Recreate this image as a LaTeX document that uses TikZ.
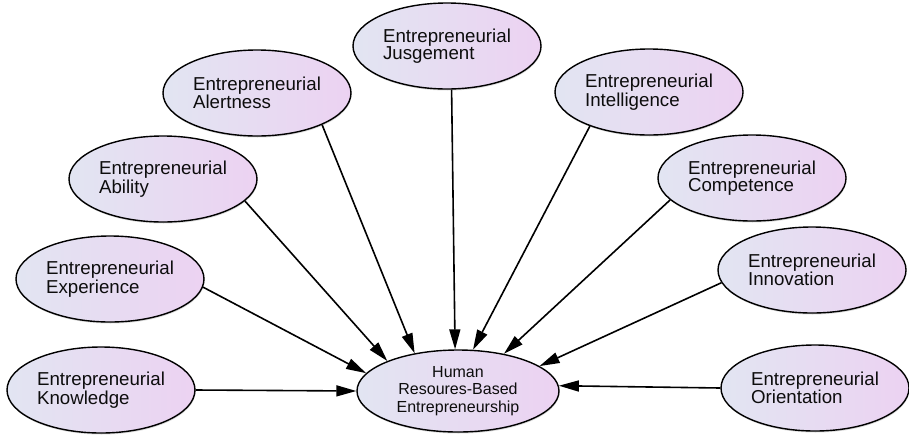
\documentclass[tikz,border=0pt]{standalone}
\usepackage{fontspec}
\setmainfont{Liberation Sans}
\usepackage{tikz}
\usetikzlibrary{arrows.meta,shapes.geometric,shadows}
\definecolor{lilacL}{RGB}{226,229,242}
\definecolor{lilacR}{RGB}{236,210,242}

\begin{document}
\begin{tikzpicture}[x=1pt, y=-1pt,
  ent/.style={ellipse, draw=black, line width=1.4pt,
              left color=lilacL, right color=lilacR,
              drop shadow={shadow xshift=0.5pt, shadow yshift=-1.5pt, opacity=0.3},
              align=left, inner sep=0pt, minimum width=188pt, minimum height=86pt,
              font=\fontsize{18.7}{17}\selectfont, text=black!95},
  hub/.style={ent, align=center, minimum width=202pt, minimum height=82pt,
              font=\fontsize{16}{17.5}\selectfont},
  arr/.style={-{Triangle[length=20pt, width=11pt]}, line width=1.6pt}]
\useasboundingbox (0,0) rectangle (909,434);
\node[hub] (hr) at (458,391) {Human\\ Resoures-Based\\ Entrepreneurship};
\node[ent] (e1) at (101,390) {Entrepreneurial\\ Knowledge};
\node[ent] (e2) at (110,279) {Entrepreneurial\\ Experience};
\node[ent] (e3) at (163,179) {Entrepreneurial\\ Ability};
\node[ent] (e4) at (257,93) {Entrepreneurial\\ Alertness};
\node[ent] (e5) at (447,46) {Entrepreneurial\\ Jusgement};
\node[ent] (e6) at (649,92) {Entrepreneurial\\ Intelligence};
\node[ent] (e7) at (752,178) {Entrepreneurial\\ Competence};
\node[ent] (e8) at (812,270) {Entrepreneurial\\ Innovation};
\node[ent] (e9) at (815,388) {Entrepreneurial\\ Orientation};
% all factors feed the hub
\draw[arr] (e1.0) -- (hr.180);
\draw[arr] (e2.-5) -- (hr.169);
\draw[arr] (e3.-15) -- (hr.157);
\draw[arr] (e4.-26) -- (hr.139);
\draw[arr] (e5.-84) -- (hr.94);
\draw[arr] (e6.-150) -- (hr.70);
\draw[arr] (e7.-165) -- (hr.39);
\draw[arr] (e8.-172) -- (hr.17);
\draw[arr] (e9.180) -- (hr.3);
\end{tikzpicture}
\end{document}
